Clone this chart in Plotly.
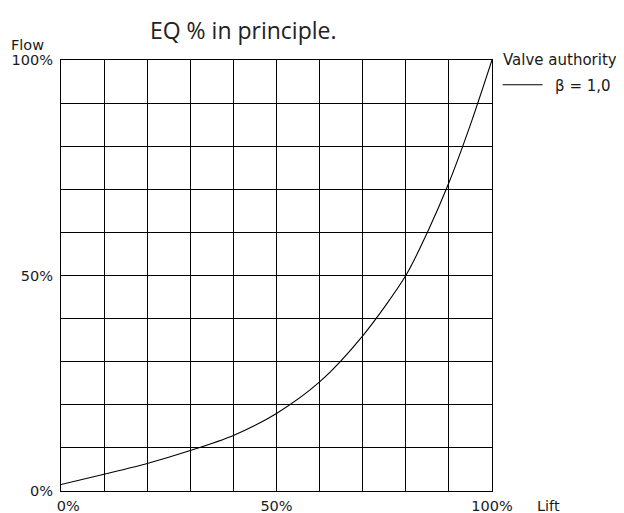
import plotly.graph_objects as go

lift = [0, 10, 20, 30, 40, 50, 60, 70, 80, 85, 90, 95, 100]
flow = [1.5, 3.9, 6.4, 9.4, 12.9, 18.0, 25.3, 36, 50, 60, 71.5, 85, 100]
grid_vals = [0, 10, 20, 30, 40, 50, 60, 70, 80, 90, 100]
x_ticktext = ["\u2002\u20020%", "", "", "", "", "50%", "", "", "", "", "100%"]
y_ticktext = ["0%", "", "", "", "", "50%", "", "", "", "", "100%"]

tick_font = dict(family="DejaVu Sans, Liberation Sans, Arial", size=14.5, color="#1a1a1a")
leg_font = dict(family="DejaVu Sans, Liberation Sans, Arial", size=15, color="#1a1a1a")

fig = go.Figure()
fig.add_trace(go.Scatter(
    x=lift, y=flow, mode="lines", name="\u2002β = 1,0",
    line=dict(color="black", width=1.1, shape="spline", smoothing=0.8),
))

fig.update_layout(
    width=624, height=513,
    margin=dict(l=53, r=140, t=52, b=30),
    paper_bgcolor="white", plot_bgcolor="white",
    title=dict(text="EQ % in principle.", x=0.377, xanchor="center", y=0.955, yanchor="middle",
               font=dict(family="Open Sans, Noto Sans", size=23, color="#222")),
    showlegend=True,
    legend=dict(x=1.013, xanchor="left", y=0.942, yanchor="middle",
                font=leg_font, bgcolor="rgba(0,0,0,0)", itemwidth=40,
                tracegroupgap=0),
    xaxis=dict(range=[0, 100], tickvals=grid_vals, ticktext=x_ticktext,
               showgrid=True, gridcolor="black", gridwidth=1.3,
               showline=True, linecolor="black", linewidth=1.3, mirror=True,
               ticks="", zeroline=False, tickfont=tick_font, ticklabelstandoff=1,
               automargin=False),
    yaxis=dict(range=[0, 100], tickvals=grid_vals, ticktext=y_ticktext,
               showgrid=True, gridcolor="black", gridwidth=1.3,
               showline=True, linecolor="black", linewidth=1.3, mirror=True,
               ticks="", zeroline=False, tickfont=tick_font, ticklabelstandoff=4,
               automargin=False),
    annotations=[
        dict(text="Flow", xref="paper", yref="paper", x=-0.12, y=1.035, xanchor="left",
             yanchor="middle", showarrow=False, font=tick_font),
        dict(text="Valve authority", xref="paper", yref="paper", x=1.021, y=1.0,
             xanchor="left", yanchor="middle", showarrow=False, font=leg_font),
        dict(text="Lift", xref="paper", yref="paper", x=1.1, y=-0.011, xanchor="left",
             yanchor="top", showarrow=False, font=tick_font),
    ],
)

fig.write_html("out.html")
